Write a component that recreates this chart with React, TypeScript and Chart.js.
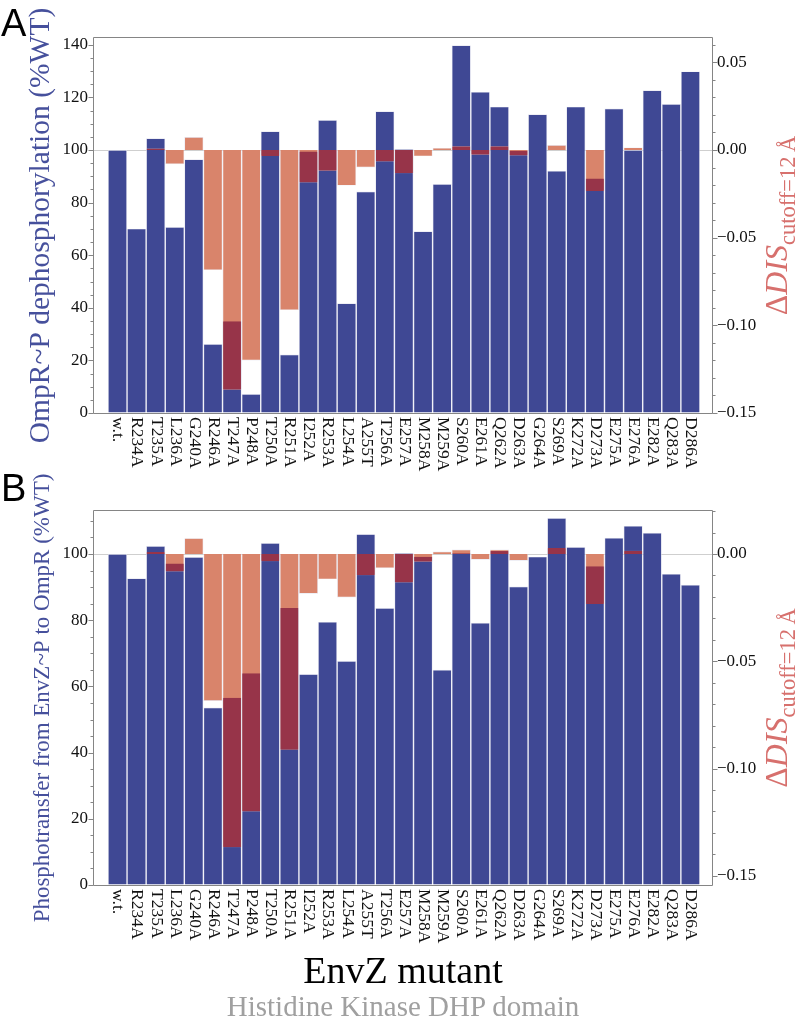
import React, { useEffect, useRef } from 'react';
import { Chart, registerables } from 'chart.js';

Chart.register(...registerables);

// ---------------- data ----------------
const categories = [
  'w.t.', 'R234A', 'T235A', 'L236A', 'G240A', 'R246A', 'T247A', 'P248A', 'T250A', 'R251A',
  'I252A', 'R253A', 'L254A', 'A255T', 'T256A', 'E257A', 'M258A', 'M259A', 'S260A', 'E261A',
  'Q262A', 'D263A', 'G264A', 'S269A', 'K272A', 'D273A', 'E275A', 'E276A', 'E282A', 'Q283A', 'D286A',
];

// Panel A: OmpR~P dephosphorylation (%WT)
const dephosphorylationA = [
  100, 70.1, 104.5, 70.7, 96.5, 26.2, 34.9, 7.2, 107.1, 22.2,
  99.4, 111.4, 41.7, 84.2, 114.7, 100.4, 69.1, 87.1, 139.8, 122.1,
  116.5, 99.7, 113.6, 92.1, 116.5, 89.2, 115.8, 100, 122.7, 117.5, 129.9,
];

// Panel B: Phosphotransfer from EnvZ~P to OmpR (%WT)
const phosphotransferB = [
  100, 92.7, 102.4, 97.1, 99.1, 53.6, 56.6, 64.0, 103.3, 83.7,
  63.7, 79.5, 67.7, 106.0, 83.7, 100.3, 99.2, 65.0, 100.2, 79.2,
  100.9, 90.2, 99.2, 110.9, 102.1, 96.3, 104.9, 108.5, 106.4, 94.0, 90.7,
];

// ΔDIS (cutoff = 12 Å), shared by both panels
const deltaDIS = [
  0, 0, 0.0009, -0.0081, 0.0074, -0.0685, -0.1367, -0.12, -0.0034, -0.0913,
  -0.0185, -0.0118, -0.0203, -0.0099, -0.0066, -0.0133, -0.0036, 0.0012, 0.0021, -0.0027,
  0.0021, -0.0031, 0, 0.0028, 0, -0.0233, 0, 0.0015, 0, 0, 0,
];

const leftTicksA = [0, 20, 40, 60, 80, 100, 120, 140];
const rightTicksA = [-0.15, -0.1, -0.05, 0, 0.05];
const leftTicksB = [0, 20, 40, 60, 80, 100];
const rightTicksB = [-0.15, -0.1, -0.05, 0];

// ---------------- styles ----------------
const SERIF = "'Liberation Serif', 'Times New Roman', serif";
const SANS = "'Liberation Sans', Arial, sans-serif";
const BLUE = '#3f4894';
const ORANGE = '#d9846b';
const RED = '#973449';
const EDGE = 'rgba(226,226,238,1)';
const FRAME = '#858585';
const TITLE_BLUE = '#46509c';
const TITLE_RED = '#d7706d';

type PanelSpec = {
  values: number[];
  yMax: number;
  k: number;
  leftTicks: number[];
  rightTicks: number[];
  leftTitle: string;
  leftTitleSize: number;
  padTop: number;
  xHeight: number;
  height: number;
};

function fmtRight(v: number) {
  const s = Math.abs(v).toFixed(2);
  return v < -1e-9 ? '\u2212' + s : s;
}

function decorPlugin(spec: PanelSpec) {
  return {
    id: 'panelDecor',
    afterDraw(chart: any) {
      const { ctx, chartArea: a, scales } = chart;
      const ys = scales.y;
      const y2s = scales.y2;
      const xs = scales.x;
      ctx.save();
      // frame
      ctx.strokeStyle = FRAME;
      ctx.lineWidth = 1;
      const L = Math.round(a.left) - 0.5;
      const R = Math.round(a.right) + 0.5;
      const T = Math.round(a.top) - 0.5;
      const B = Math.round(a.bottom) + 0.5;
      ctx.beginPath();
      ctx.moveTo(L, T); ctx.lineTo(R, T); ctx.lineTo(R, B); ctx.lineTo(L, B); ctx.closePath();
      ctx.stroke();
      // left ticks (major every 20, minor every 5)
      ctx.beginPath();
      for (let v = 0; v <= spec.yMax + 1e-6; v += 5) {
        const py = Math.round(ys.getPixelForValue(v)) + 0.5;
        const len = v % 20 === 0 ? 5 : 3;
        ctx.moveTo(L, py); ctx.lineTo(L - len, py);
      }
      // right ticks (major every 0.05, minor every 0.01)
      const jMin = Math.ceil(y2s.min * 100 - 1e-6);
      const jMax = Math.floor(y2s.max * 100 + 1e-6);
      for (let j = jMin; j <= jMax; j++) {
        const py = Math.round(y2s.getPixelForValue(j / 100)) + 0.5;
        const len = j % 5 === 0 ? 5 : 3;
        ctx.moveTo(R, py); ctx.lineTo(R + len, py);
      }
      ctx.stroke();

      // x labels, rotated clockwise
      ctx.fillStyle = '#111';
      ctx.font = `17.5px ${SERIF}`;
      ctx.textAlign = 'left';
      ctx.textBaseline = 'middle';
      categories.forEach((c, i) => {
        const px = xs.getPixelForValue(i);
        ctx.save();
        ctx.translate(px + 0.5, a.bottom + 4);
        ctx.rotate(Math.PI / 2);
        ctx.fillText(c, 0, 0);
        ctx.restore();
      });

      const cy = (a.top + a.bottom) / 2;
      // left title
      ctx.save();
      ctx.translate(49, cy);
      ctx.rotate(-Math.PI / 2);
      ctx.fillStyle = TITLE_BLUE;
      ctx.font = `${spec.leftTitleSize}px ${SERIF}`;
      ctx.textAlign = 'center';
      ctx.textBaseline = 'alphabetic';
      ctx.fillText(spec.leftTitle, 0, 0);
      ctx.restore();

      // right title: ΔDIS with subscript cutoff=12 Å
      const segs = [
        { t: '\u0394', f: `32px ${SERIF}`, dy: 0 },
        { t: 'DIS', f: `italic 32px ${SERIF}`, dy: 0 },
        { t: 'cutoff=12\u2009\u00C5', f: `22.5px ${SERIF}`, dy: 8 },
      ];
      let total = 0;
      const widths = segs.map((s) => {
        ctx.font = s.f;
        const w = ctx.measureText(s.t).width;
        total += w;
        return w;
      });
      ctx.save();
      ctx.translate(787, cy);
      ctx.rotate(-Math.PI / 2);
      ctx.fillStyle = TITLE_RED;
      ctx.textAlign = 'left';
      ctx.textBaseline = 'alphabetic';
      let xx = -total / 2;
      segs.forEach((s, i) => {
        ctx.font = s.f;
        ctx.fillText(s.t, xx, s.dy);
        xx += widths[i];
      });
      ctx.restore();
      ctx.restore();
    },
  };
}

function buildConfig(spec: PanelSpec): any {
  const y2Min = -100 * spec.k;
  const y2Max = (spec.yMax - 100) * spec.k;
  const blue = spec.values.map((v, i) => ({ x: i, y: v }));
  const orange = deltaDIS.map((d, i) => ({ x: i, y: d === 0 ? null : d }));
  const overlap = spec.values.map((v, i) => {
    const d = deltaDIS[i];
    const lo = Math.max(y2Min, Math.min(d, 0));
    const hi = Math.min((v - 100) * spec.k, Math.max(d, 0));
    return { x: i, y: hi > lo ? [lo, hi] : null };
  });
  const common = {
    grouped: false,
    categoryPercentage: 1,
    barPercentage: 1,
    inflateAmount: 0,
  };
  return {
    type: 'bar',
    data: {
      datasets: [
        {
          ...common,
          label: 'activity',
          data: blue,
          yAxisID: 'y',
          backgroundColor: BLUE,
          borderColor: EDGE,
          borderWidth: 0.7,
          borderSkipped: 'start',
          order: 3,
        },
        {
          ...common,
          label: 'ΔDIS',
          data: orange,
          yAxisID: 'y2',
          backgroundColor: ORANGE,
          borderColor: EDGE,
          borderWidth: 0.7,
          borderSkipped: 'start',
          order: 2,
        },
        {
          ...common,
          label: 'overlap',
          data: overlap,
          yAxisID: 'y2',
          backgroundColor: RED,
          borderColor: EDGE,
          borderWidth: { left: 0.7, right: 0.7, top: 0, bottom: 0 },
          borderSkipped: false,
          order: 1,
        },
      ],
    },
    options: {
      animation: false,
      responsive: false,
      maintainAspectRatio: false,
      devicePixelRatio: 1,
      layout: { padding: { top: spec.padTop, left: 0, right: 0, bottom: 0 } },
      plugins: { legend: { display: false }, tooltip: { enabled: false }, title: { display: false } },
      scales: {
        x: {
          type: 'linear',
          min: -1.23,
          max: categories.length - 1 + 1.13,
          offset: false,
          grid: { display: false, drawTicks: false },
          border: { display: false },
          ticks: { display: false },
          afterBuildTicks: (s: any) => {
            s.ticks = categories.map((_, i) => ({ value: i }));
          },
          afterFit: (s: any) => {
            s.height = spec.xHeight;
          },
        },
        y: {
          type: 'linear',
          position: 'left',
          min: 0,
          max: spec.yMax,
          grid: {
            drawTicks: false,
            color: (c: any) => (c.tick && c.tick.value === 100 ? '#cfcfcf' : 'rgba(0,0,0,0)'),
            lineWidth: 1,
          },
          border: { display: false },
          ticks: {
            padding: 6,
            color: '#111',
            font: { family: SERIF, size: 17 },
            callback: (v: any) => String(v),
          },
          afterBuildTicks: (s: any) => {
            s.ticks = spec.leftTicks.map((v) => ({ value: v }));
          },
          afterFit: (s: any) => {
            s.width = 94;
          },
        },
        y2: {
          type: 'linear',
          position: 'right',
          min: y2Min,
          max: y2Max,
          grid: { display: false, drawTicks: false },
          border: { display: false },
          ticks: {
            padding: 5,
            color: '#111',
            font: { family: SERIF, size: 17 },
            callback: (v: any) => fmtRight(Number(v)),
          },
          afterBuildTicks: (s: any) => {
            s.ticks = spec.rightTicks.map((v) => ({ value: v }));
          },
          afterFit: (s: any) => {
            s.width = 84;
          },
        },
      },
    },
    plugins: [decorPlugin(spec)],
  };
}

const specA: PanelSpec = {
  values: dephosphorylationA,
  yMax: 142.6,
  k: 0.0015,
  leftTicks: leftTicksA,
  rightTicks: rightTicksA,
  leftTitle: 'OmpR~P dephosphorylation (%WT)',
  leftTitleSize: 29.5,
  padTop: 38,
  xHeight: 67,
  height: 480,
};

const specB: PanelSpec = {
  values: phosphotransferB,
  yMax: 113,
  k: 0.001543,
  leftTicks: leftTicksB,
  rightTicks: rightTicksB,
  leftTitle: 'Phosphotransfer from EnvZ~P to OmpR (%WT)',
  leftTitleSize: 23,
  padTop: 41,
  xHeight: 65,
  height: 480,
};

function Panel({ spec, top }: { spec: PanelSpec; top: number }) {
  const ref = useRef<HTMLCanvasElement>(null);
  useEffect(() => {
    const chart = new Chart(ref.current as HTMLCanvasElement, buildConfig(spec));
    return () => chart.destroy();
  }, [spec]);
  return (
    <canvas
      ref={ref}
      width={796}
      height={spec.height}
      style={{ position: 'absolute', left: 0, top, width: 796, height: spec.height }}
    />
  );
}

const textBase: React.CSSProperties = {
  position: 'absolute',
  lineHeight: 1,
  whiteSpace: 'nowrap',
  margin: 0,
};

export default function App() {
  return (
    <div style={{ position: 'absolute', left: 0, top: 0, width: 796, height: 1017, background: '#fff', overflow: 'hidden' }}>
      <Panel spec={specA} top={0} />
      <Panel spec={specB} top={470} />
      <div style={{ ...textBase, left: 1, top: 3.5, fontFamily: SANS, fontSize: 38, color: '#000' }}>A</div>
      <div style={{ ...textBase, left: 1, top: 468.5, fontFamily: SANS, fontSize: 38, color: '#000' }}>B</div>
      <div style={{ ...textBase, left: 0, width: 806, top: 951, textAlign: 'center', fontFamily: SERIF, fontSize: 38, color: '#000' }}>
        EnvZ mutant
      </div>
      <div style={{ ...textBase, left: 0, width: 806, top: 992, textAlign: 'center', fontFamily: SERIF, fontSize: 29, color: '#a0a0a0' }}>
        Histidine Kinase DHP domain
      </div>
    </div>
  );
}
